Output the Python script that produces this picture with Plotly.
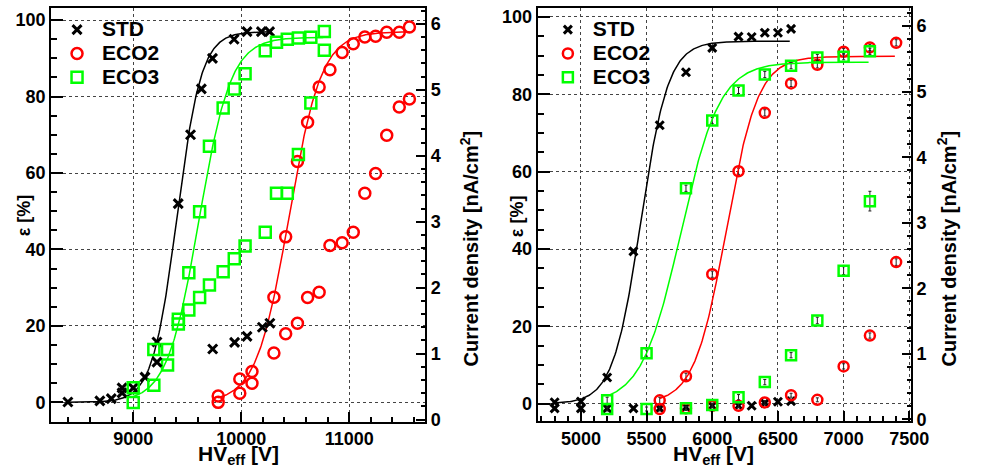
import numpy as np
import plotly.graph_objects as go

# ---------------- left panel: HV scan (high-voltage chambers) ----------------
L_STD_HV = [8395, 8691, 8797, 8897, 9000, 9109, 9220, 9417, 9531, 9631, 9734, 9934, 10054, 10187, 10263]
L_STD_EFF = [0.1, 0.4, 1.0, 2.5, 3.8, 6.6, 15.8, 52.0, 70.0, 82.0, 90.0, 95.0, 97.0, 97.0, 97.0]
L_STD_CUR_HV = [8897, 9220, 9736, 9939, 10054, 10196, 10266]
L_STD_CUR = [0.48, 0.87, 1.07, 1.17, 1.26, 1.40, 1.46]

L_ECO2_HV = [9787, 9987, 10100, 10303, 10412, 10521, 10615, 10722, 10822, 10935, 11038, 11145, 11245, 11348, 11464, 11558]
L_ECO2_EFF = [1.7, 6.1, 8.1, 27.5, 43.3, 63.0, 73.3, 82.5, 87.0, 91.5, 93.8, 95.6, 95.8, 96.8, 96.8, 98.2]
L_ECO2_CUR = [0.26, 0.40, 0.55, 1.01, 1.30, 1.46, 1.85, 1.93, 2.64, 2.68, 2.84, 3.43, 3.73, 4.31, 4.74, 4.86]

L_ECO3_HV = [9000, 9191, 9318, 9418, 9515, 9615, 9706, 9833, 9936, 10036, 10223, 10327, 10427, 10530, 10645, 10770]
L_ECO3_EFF = [0.0, 4.5, 9.8, 20.5, 33.9, 49.9, 67.0, 77.0, 82.0, 86.0, 92.0, 94.2, 95.0, 95.3, 95.5, 97.0]
L_ECO3_CUR = [0.48, 1.06, 1.06, 1.52, 1.66, 1.85, 2.04, 2.24, 2.44, 2.63, 2.84, 3.43, 3.43, 4.02, 4.80, 5.60]

# sigmoid fit parameters: plateau [%], HV50 [V], slope [1/V], HV range drawn
L_FIT_STD = (97.0, 9405, 0.00885, 8395, 10280)
L_FIT_ECO2 = (97.0, 10442, 0.00667, 9787, 11560)
L_FIT_ECO3 = (95.5, 9610, 0.0068, 9000, 10760)

# ---------------- right panel: HV scan (low-voltage chambers) ----------------
R_STD_HV = [4800, 5000, 5200, 5400, 5600, 5800, 6000, 6200, 6300, 6400, 6500, 6600]
R_STD_EFF = [0.4, 0.6, 6.8, 39.4, 72.0, 85.7, 92.0, 94.9, 94.8, 95.9, 95.9, 96.9]
R_STD_CUR = [0.17, 0.17, 0.17, 0.17, 0.17, 0.19, 0.21, 0.21, 0.21, 0.25, 0.27, 0.28]

R_ECO2_HV = [5600, 5800, 6000, 6200, 6400, 6600, 6800, 7000, 7200, 7400]
R_ECO2_EFF = [0.9, 7.1, 33.5, 60.1, 75.2, 82.8, 87.6, 91.0, 92.1, 93.3]
R_ECO2_EFF_ERR = [0.8, 0.8, 0.8, 0.8, 0.8, 0.8, 0.8, 0.8, 0.8, 0.8]
R_ECO2_CUR = [0.16, 0.17, 0.21, 0.21, 0.26, 0.37, 0.30, 0.81, 1.28, 2.40]
R_ECO2_CUR_ERR = [0.03, 0.03, 0.03, 0.03, 0.03, 0.03, 0.03, 0.04, 0.04, 0.05]

R_ECO3_HV = [5200, 5500, 5800, 6000, 6200, 6400, 6600, 6800, 7000, 7200]
R_ECO3_EFF = [0.9, 13.1, 55.7, 73.2, 81.0, 85.1, 87.4, 89.5, 89.7, 91.1]
R_ECO3_EFF_ERR = [0.8, 0.8, 0.8, 0.8, 0.8, 0.8, 0.8, 0.8, 0.8, 0.8]
R_ECO3_CUR = [0.16, 0.16, 0.17, 0.22, 0.34, 0.57, 0.98, 1.51, 2.27, 3.33]
R_ECO3_CUR_ERR = [0.03, 0.03, 0.03, 0.03, 0.04, 0.04, 0.04, 0.05, 0.06, 0.15]

R_FIT_STD = (93.7, 5455, 0.0095, 4800, 6590)
R_FIT_ECO2 = (89.8, 6106, 0.00825, 5600, 7390)
R_FIT_ECO3 = (88.3, 5760, 0.00672, 5200, 7190)

SERIES = ["STD", "ECO2", "ECO3"]
COLORS = {"STD": "#000000", "ECO2": "#ff0000", "ECO3": "#00ff00"}
FONT = "Liberation Sans, Arial, Helvetica, sans-serif"

W, H = 983, 468


def marker(name, size):
    if name == "STD":
        return dict(symbol="x-thin", size=size - 2, color="black",
                    line=dict(width=3, color="black"))
    sym = "circle-open" if name == "ECO2" else "square-open"
    return dict(symbol=sym, size=size, color=COLORS[name],
                line=dict(width=2.5, color=COLORS[name]))


def sigmoid_curve(params):
    plateau, hv50, slope, lo, hi = params
    hv = np.linspace(lo, hi, 300)
    return hv, plateau / (1.0 + np.exp(-slope * (hv - hv50)))


fig = go.Figure()


def add_panel(xa, ya, ya2, legend, data, size):
    for name in SERIES:
        d = data[name]
        err = d.get("eff_err")
        fig.add_trace(go.Scatter(
            x=d["hv"], y=d["eff"], mode="markers",
            name=f'<span style="font-size:21px">{name}</span>',
            marker=marker(name, size), xaxis=xa, yaxis=ya, legend=legend,
            error_y=(dict(type="data", array=err, color="#222", thickness=1, width=1.5)
                     if err else None),
        ))
        fx, fy = sigmoid_curve(d["fit"])
        fig.add_trace(go.Scatter(
            x=fx, y=fy, mode="lines", line=dict(color=COLORS[name], width=1.5),
            showlegend=False, xaxis=xa, yaxis=ya, hoverinfo="skip",
        ))
        cerr = d.get("cur_err")
        fig.add_trace(go.Scatter(
            x=d.get("cur_hv", d["hv"]), y=d["cur"], mode="markers",
            marker=marker(name, size), showlegend=False, xaxis=xa, yaxis=ya2,
            error_y=(dict(type="data", array=cerr, color="#222", thickness=1, width=1.5)
                     if cerr else None),
        ))


add_panel("x", "y", "y2", "legend", {
    "STD": dict(hv=L_STD_HV, eff=L_STD_EFF, cur_hv=L_STD_CUR_HV, cur=L_STD_CUR, fit=L_FIT_STD),
    "ECO2": dict(hv=L_ECO2_HV, eff=L_ECO2_EFF, cur=L_ECO2_CUR, fit=L_FIT_ECO2),
    "ECO3": dict(hv=L_ECO3_HV, eff=L_ECO3_EFF, cur=L_ECO3_CUR, fit=L_FIT_ECO3),
}, 11)

add_panel("x2", "y3", "y4", "legend2", {
    "STD": dict(hv=R_STD_HV, eff=R_STD_EFF, cur=R_STD_CUR, fit=R_FIT_STD),
    "ECO2": dict(hv=R_ECO2_HV, eff=R_ECO2_EFF, eff_err=R_ECO2_EFF_ERR,
                 cur=R_ECO2_CUR, cur_err=R_ECO2_CUR_ERR, fit=R_FIT_ECO2),
    "ECO3": dict(hv=R_ECO3_HV, eff=R_ECO3_EFF, eff_err=R_ECO3_EFF_ERR,
                 cur=R_ECO3_CUR, cur_err=R_ECO3_CUR_ERR, fit=R_FIT_ECO3),
}, 10)

tickfont = dict(family=FONT, size=18, color="black", weight="bold")
grid = dict(showgrid=True, gridcolor="#444", griddash="dot", gridwidth=1)


def xaxis(domain, rng, dtick, minor, anchor):
    return dict(domain=domain, range=rng, dtick=dtick, tick0=0, tickformat="d",
                ticks="inside", ticklen=10, tickwidth=1.5, tickcolor="black",
                minor=dict(dtick=minor, ticks="inside", ticklen=5, tickwidth=1.5,
                           tickcolor="black", showgrid=False),
                showline=True, linewidth=2, linecolor="black", mirror=True,
                zeroline=False, tickfont=tickfont, anchor=anchor, **grid)


def yaxis_left(domain, rng, anchor):
    return dict(domain=domain, range=rng, dtick=20, tick0=0, ticks="inside",
                ticklen=12, tickwidth=1.5, tickcolor="black",
                minor=dict(dtick=5, ticks="inside", ticklen=6, tickwidth=1.5,
                           tickcolor="black", showgrid=False),
                showline=True, linewidth=2, linecolor="black",
                zeroline=False, tickfont=tickfont, anchor=anchor, **grid)


def yaxis_right(rng, overlay, anchor):
    return dict(range=rng, overlaying=overlay, side="right", anchor=anchor,
                dtick=1, tick0=0, ticks="inside", ticklen=9, tickwidth=1.5,
                tickcolor="black",
                minor=dict(dtick=0.2, ticks="inside", ticklen=4, tickwidth=1.5,
                           tickcolor="black", showgrid=False),
                showline=True, linewidth=2, linecolor="black", showgrid=False,
                zeroline=False, tickfont=tickfont)


def px(x, y):
    return x / W, 1 - y / H


annotations = []
title_font = dict(family=FONT, size=20, color="black", weight="bold")
for (tx, ty), text, angle, size in [
    ((24, 219), "ε [%]", -90, 18),
    ((478, 252), "Current density [nA/cm<sup>2</sup>]", -90, 20),
    ((243, 463), "HV<sub>eff</sub> [V]", 0, 21),
    ((526, 219), "ε [%]", -90, 18),
    ((964, 252), "Current density [nA/cm<sup>2</sup>]", -90, 20),
    ((727, 463), "HV<sub>eff</sub> [V]", 0, 21),
]:
    ax_, ay_ = px(tx, ty)
    annotations.append(dict(x=ax_, y=ay_, xref="paper", yref="paper", text=text,
                            textangle=angle, showarrow=False,
                            font=dict(title_font, size=size),
                            xanchor="center", yanchor="middle"))

legend_style = dict(font=dict(family=FONT, size=16, color="black", weight="bold"),
                    bgcolor="rgba(0,0,0,0)", borderwidth=0, itemwidth=40,
                    xanchor="left", yanchor="top", tracegroupgap=0)

fig.update_layout(
    width=W, height=H, margin=dict(l=0, r=0, t=0, b=0),
    paper_bgcolor="white", plot_bgcolor="white", showlegend=True,
    xaxis=xaxis([52 / W, 433 / W], [8239, 11703], 1000, 200, "y"),
    yaxis=yaxis_left([39 / H, 461 / H], [-5.06, 103.2], "x"),
    yaxis2=yaxis_right([-0.034, 6.243], "y", "x"),
    xaxis2=xaxis([547.7 / W, 928 / W], [4671, 7513], 500, 100, "y3"),
    yaxis3=yaxis_left([39.3 / H, 460.5 / H], [-4.56, 102.2], "x2"),
    yaxis4=yaxis_right([-0.03, 6.27], "y3", "x2"),
    legend=dict(legend_style, x=53 / W, y=1 - 12 / H),
    legend2=dict(legend_style, x=553 / W, y=1 - 12 / H),
    annotations=annotations,
)

fig.write_html("out.html")
